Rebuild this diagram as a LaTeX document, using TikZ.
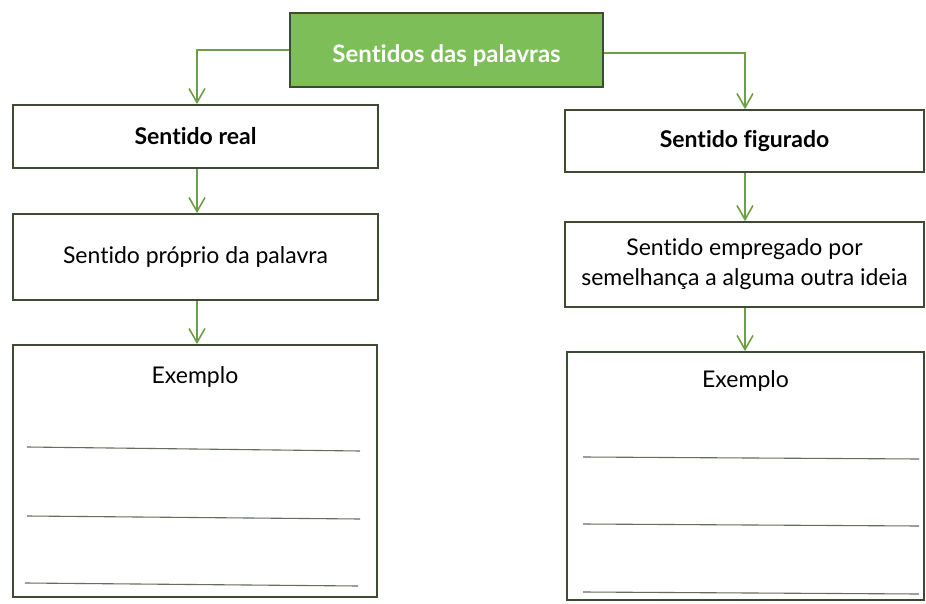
\documentclass[tikz,border=0pt]{standalone}
\usepackage{fontspec}
\setmainfont{Lato}[Ligatures=NoCommon]
\usetikzlibrary{arrows.meta}

\definecolor{boxline}{HTML}{3F4A34}
\definecolor{arrowgreen}{HTML}{6E9E45}
\definecolor{titlegreen}{HTML}{7DBE58}

\tikzset{
  cardtext/.style={font=\fontsize{23}{30}\selectfont, align=center},
  card/.style={cardtext, draw=boxline, line width=1.8pt, fill=white, inner sep=0pt},
  titlecard/.style={card, fill=titlegreen, text=white, font=\fontsize{24}{30}\selectfont\bfseries, text height=30pt, text depth=5pt},
  link/.style={draw=arrowgreen, line width=1.8pt, -{Straight Barb[length=14pt,width=16pt,line width=1.6pt]}},
  writeline/.style={draw=boxline!80, line width=1.1pt}
}

\begin{document}
\begin{tikzpicture}[x=1pt,y=-1pt]
      \useasboundingbox (0,0) rectangle (926,604);

      \node[titlecard, minimum width=313pt, minimum height=74pt] (title) at (446.5,50) {Sentidos das palavras};

      \node[card, minimum width=365pt, minimum height=63pt, font=\fontsize{23}{30}\selectfont\bfseries] (real) at (195.5,136.5) {Sentido real};
      \node[card, minimum width=365pt, minimum height=86pt] (proprio) at (195.5,257) {Sentido próprio da palavra};
      \node[card, minimum width=364pt, minimum height=252pt] (exreal) at (195,471) {};
      \node[cardtext] (exreallabel) at (195,377) {Exemplo};

      \node[card, minimum width=359pt, minimum height=62pt, font=\fontsize{23}{30}\selectfont\bfseries] (figurado) at (744.5,141) {Sentido figurado};
      \node[card, minimum width=359pt, minimum height=85pt] (empregado) at (744.5,264.5) {Sentido empregado por\\semelhança a alguma outra ideia};
      \node[card, minimum width=357pt, minimum height=248pt] (exfig) at (745.5,476) {};
      \node[cardtext] (exfiglabel) at (745.5,381) {Exemplo};

      \coordinate (realtop) at (197,50);
      \coordinate (figtop) at (745,53);

      \draw[link] (title.west |- realtop) -| (real.north -| realtop);
      \draw[link] (title.east |- figtop) -| (figurado.north -| figtop);
      \draw[link] (real.south -| realtop) -- (proprio.north -| realtop);
      \draw[link] (proprio.south -| realtop) -- (exreal.north -| realtop);
      \draw[link] (figurado.south -| figtop) -- (empregado.north -| figtop);
      \draw[link] (empregado.south -| figtop) -- (exfig.north -| figtop);

      \draw[writeline] (27,447) -- (360,451);
      \draw[writeline] (27,516) -- (360,519);
      \draw[writeline] (25,583) -- (358,586);

      \draw[writeline] (583,457) -- (919,459);
      \draw[writeline] (583,524) -- (919,526);
      \draw[writeline] (583,592) -- (919,594);
\end{tikzpicture}
\end{document}
